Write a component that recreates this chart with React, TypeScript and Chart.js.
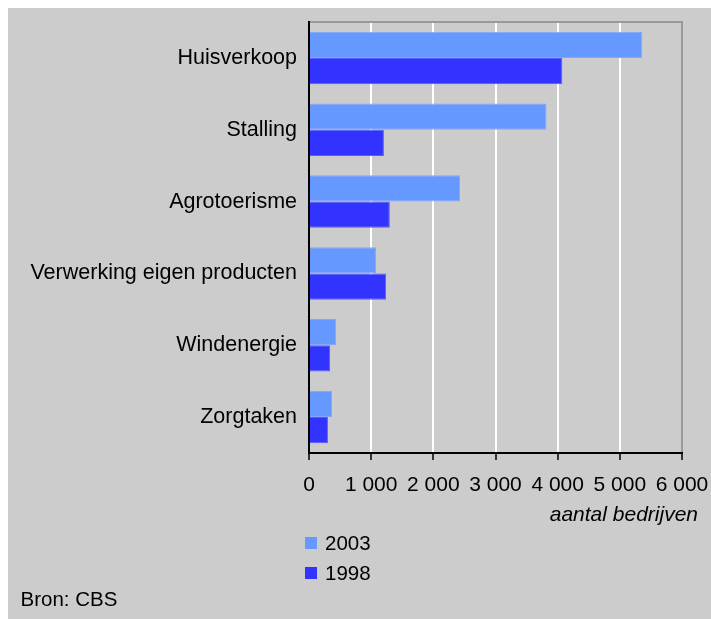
import React, { useEffect, useRef } from "react";
import { Chart, registerables } from "chart.js";

Chart.register(...registerables);

const categories = [
  "Huisverkoop",
  "Stalling",
  "Agrotoerisme",
  "Verwerking eigen producten",
  "Windenergie",
  "Zorgtaken",
];
const values2003 = [5360, 3820, 2430, 1080, 435, 370];
const values1998 = [4075, 1205, 1300, 1240, 340, 305];
const seriesLabels = ["2003", "1998"];
const xTicks = [0, 1000, 2000, 3000, 4000, 5000, 6000];
const axisTitle = "aantal bedrijven";
const sourceText = "Bron: CBS";

const FONT = "'Liberation Sans', Arial, sans-serif";
const BG = "#cccccc";

function fmt(v: number): string {
  return String(v).replace(/\B(?=(\d{3})+(?!\d))/g, " ");
}

const extrasPlugin = {
  id: "extras",
  afterDraw(chart: any) {
    const ctx = chart.ctx;
    const area = chart.chartArea;
    ctx.save();
    // gray frame top & right
    ctx.strokeStyle = "#999999";
    ctx.lineWidth = 2;
    ctx.beginPath();
    ctx.moveTo(area.left, area.top);
    ctx.lineTo(area.right, area.top);
    ctx.lineTo(area.right, area.bottom);
    ctx.stroke();
    // redraw black axes on top
    ctx.strokeStyle = "#000000";
    ctx.beginPath();
    ctx.moveTo(area.left, area.top - 1);
    ctx.lineTo(area.left, area.bottom);
    ctx.lineTo(area.right + 1, area.bottom);
    ctx.stroke();

    // axis title
    ctx.fillStyle = "#000";
    ctx.font = `italic 21px ${FONT}`;
    ctx.textAlign = "right";
    ctx.textBaseline = "middle";
    ctx.fillText(axisTitle, area.right + 16, area.bottom + 62);

    // legend
    const ds = chart.data.datasets;
    ctx.font = `20.5px ${FONT}`;
    ctx.textAlign = "left";
    ds.forEach((d: any, i: number) => {
      const cy = area.bottom + 90 + i * 30;
      ctx.fillStyle = d.backgroundColor;
      ctx.fillRect(area.left - 4, cy - 6, 12, 12);
      ctx.fillStyle = "#000";
      ctx.fillText(d.label, area.left + 16, cy + 1);
    });

    // source
    ctx.font = `20.5px ${FONT}`;
    ctx.fillText(sourceText, 12.5, chart.height - 19);
    ctx.restore();
  },
};

export default function App() {
  const ref = useRef<HTMLCanvasElement>(null);
  useEffect(() => {
    if (!ref.current) return;
    const chart = new Chart(ref.current, {
      type: "bar",
      data: {
        labels: categories,
        datasets: [
          {
            label: seriesLabels[0],
            data: values2003,
            backgroundColor: "#6699ff",
            borderColor: "#7fa9ff",
            borderWidth: 1,
            barPercentage: 1,
            categoryPercentage: 0.73,
          },
          {
            label: seriesLabels[1],
            data: values1998,
            backgroundColor: "#3333ff",
            borderColor: "#5a5aff",
            borderWidth: 1,
            barPercentage: 1,
            categoryPercentage: 0.73,
          },
        ],
      },
      plugins: [extrasPlugin],
      options: {
        indexAxis: "y",
        animation: false,
        responsive: false,
        layout: { padding: { top: 14, right: 29, left: 0, bottom: 0 } },
        plugins: {
          legend: { display: false },
          tooltip: { enabled: false },
        },
        scales: {
          x: {
            type: "linear",
            min: 0,
            max: 6000,
            afterFit: (s: any) => {
              s.height = 166;
              s.paddingLeft = 0;
              s.paddingRight = 0;
            },
            afterBuildTicks: (s: any) => {
              s.ticks = xTicks.map((v) => ({ value: v }));
            },
            ticks: {
              color: "#000",
              font: { family: FONT, size: 21 },
              padding: 13,
              maxRotation: 0,
              autoSkip: false,
              callback: (v: any) => fmt(Number(v)),
            },
            grid: {
              color: "#ffffff",
              lineWidth: 2,
              tickColor: "#000000",
              tickLength: 7,
              tickWidth: 1.5,
            },
            border: { color: "#000", width: 2 },
          },
          y: {
            afterFit: (s: any) => {
              s.width = 301;
              s.paddingTop = 0;
              s.paddingBottom = 0;
            },
            ticks: {
              color: "#000",
              font: { family: FONT, size: 21.5 },
              padding: 12,
              autoSkip: false,
            },
            grid: { display: false, drawTicks: false },
            border: { color: "#000", width: 2 },
          },
        },
      },
    } as any);
    return () => chart.destroy();
  }, []);
  return (
    <div
      style={{
        position: "fixed",
        left: 0,
        top: 0,
        width: 711,
        height: 619,
        background: "#ffffff",
        overflow: "hidden",
      }}
    >
      <div
        style={{
          position: "absolute",
          left: 8,
          top: 8,
          width: 703,
          height: 611,
          background: BG,
        }}
      >
        <canvas ref={ref} width={703} height={611} style={{ display: "block" }} />
      </div>
    </div>
  );
}
